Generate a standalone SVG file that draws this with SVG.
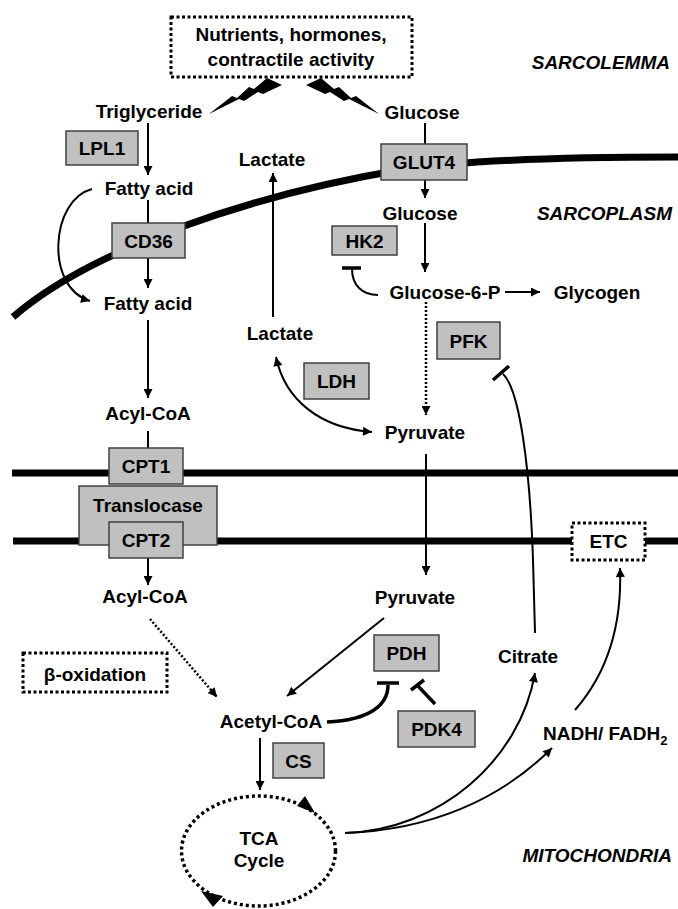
<svg xmlns="http://www.w3.org/2000/svg" width="678" height="909" viewBox="0 0 678 909">
<defs>
<style>
text{font-family:"Liberation Sans",Arial,sans-serif;font-weight:bold;font-size:19px;fill:#000;text-anchor:middle}
.it{font-style:italic;text-anchor:end}
.box{fill:#c0c0c0;stroke:#404040;stroke-width:1.5}
.dbox{fill:#fff;stroke:#000;stroke-width:3;stroke-dasharray:3 2.5}
.mem{fill:none;stroke:#000;stroke-width:7}
.c{fill:none;stroke:#000;stroke-width:2}
.ca{fill:none;stroke:#000;stroke-width:2;marker-end:url(#ah)}
.dot{fill:none;stroke:#000;stroke-width:2.5;stroke-dasharray:2 2;marker-end:url(#ah)}
.inh{fill:none;stroke:#000;stroke-width:3.5}
.bolt{fill:#000}
</style>
<marker id="ah" viewBox="0 0 10 10" refX="10" refY="5" markerWidth="10" markerHeight="9" markerUnits="userSpaceOnUse" orient="auto-start-reverse"><path d="M0,0 L10,5 L0,10 z" fill="#000"/></marker>
</defs>

<g id="membranes">
<path class="mem" d="M13,317 C90,250 250,195 400,170 C470,159 600,157 678,157"/>
<line class="mem" x1="12" y1="473" x2="678" y2="473"/>
<line class="mem" x1="13" y1="541" x2="678" y2="541"/>
</g>

<g id="labels">
<text class="it" x="670" y="69">SARCOLEMMA</text>
<text class="it" x="672" y="220">SARCOPLASM</text>
<text class="it" x="672" y="862">MITOCHONDRIA</text>
</g>

<g id="connectors">
<polygon class="bolt" points="209,114 232,96 237,98 249,87 254,89 267,78 282,85 263,94 258,92 244,101 239,99"/>
<polygon class="bolt" points="379,114 356,96 351,98 339,87 334,89 321,78 306,85 325,94 330,92 344,101 349,99"/>
<line class="ca" x1="148" y1="123" x2="148" y2="175"/>
<line class="c" x1="148" y1="200" x2="148" y2="223"/>
<line class="ca" x1="148" y1="258" x2="148" y2="288"/>
<path class="ca" d="M92,189 C50,200 45,288 90,301"/>
<line class="ca" x1="148" y1="320" x2="148" y2="398"/>
<line class="c" x1="148" y1="431" x2="148" y2="448"/>
<line class="ca" x1="148" y1="558" x2="148" y2="585"/>
<line class="dot" x1="150" y1="619" x2="217" y2="697"/>
<line class="c" x1="425" y1="123" x2="425" y2="144"/>
<line class="ca" x1="425" y1="180" x2="425" y2="198"/>
<line class="ca" x1="425" y1="223" x2="425" y2="272"/>
<path class="c" d="M378,295 C362,295 352,285 352,269"/>
<line class="inh" x1="342" y1="268" x2="361" y2="268"/>
<line class="ca" x1="505" y1="292" x2="540" y2="292"/>
<line class="dot" x1="426" y1="302" x2="426" y2="415"/>
<line class="ca" x1="273" y1="317" x2="273" y2="173"/>
<path class="ca" d="M276,357 C285,400 320,428 372,432" marker-start="url(#ah)"/>
<line class="ca" x1="426" y1="454" x2="426" y2="575"/>
<line class="ca" x1="384" y1="618" x2="287" y2="696"/>
<path class="inh" d="M327,722 C370,720 388,705 388,685"/>
<line class="inh" x1="377" y1="683" x2="399" y2="683"/>
<line class="inh" x1="435" y1="704" x2="418" y2="686"/>
<line class="inh" x1="411" y1="690" x2="424" y2="680"/>
<line class="ca" x1="260" y1="738" x2="260" y2="790"/>
<path class="ca" d="M345,833 C440,830 520,760 535,673"/>
<path class="ca" d="M345,833 C430,830 500,800 552,748"/>
<path class="c" d="M535,633 L533,560 C530,470 520,390 503,374"/>
<line class="inh" x1="493" y1="380" x2="509" y2="366"/>
<path class="ca" d="M575,710 C610,670 622,620 620,568"/>
</g>

<g id="nutrients">
<rect class="dbox" x="171" y="17" width="241" height="60"/>
<text x="291" y="41">Nutrients, hormones,</text>
<text x="291" y="66">contractile activity</text>
</g>
<g id="triglyceride"><text x="149" y="118">Triglyceride</text></g>
<g id="glucose-out"><text x="422" y="119">Glucose</text></g>
<g id="lpl1"><rect class="box" x="66" y="131" width="72" height="34"/><text x="102" y="155">LPL1</text></g>
<g id="lactate-out"><text x="272" y="166">Lactate</text></g>
<g id="fatty-acid-out"><text x="149" y="195">Fatty acid</text></g>
<g id="cd36"><rect class="box" x="112" y="223" width="73" height="35"/><text x="148.5" y="247.5">CD36</text></g>
<g id="glut4"><rect class="box" x="381" y="144" width="86" height="36"/><text x="424" y="169">GLUT4</text></g>
<g id="glucose-in"><text x="420" y="220">Glucose</text></g>
<g id="hk2"><rect class="box" x="332" y="226" width="65" height="29"/><text x="364.5" y="247.5">HK2</text></g>
<g id="fatty-acid-in"><text x="148" y="310">Fatty acid</text></g>
<g id="g6p"><text x="445" y="299">Glucose-6-P</text></g>
<g id="glycogen"><text x="597" y="299">Glycogen</text></g>
<g id="pfk"><rect class="box" x="437" y="322" width="63" height="37"/><text x="468.5" y="347.5">PFK</text></g>
<g id="lactate-in"><text x="280" y="340">Lactate</text></g>
<g id="ldh"><rect class="box" x="304" y="363" width="65" height="36"/><text x="336.5" y="388">LDH</text></g>
<g id="acyl-coa-cyto"><text x="148" y="420">Acyl-CoA</text></g>
<g id="pyruvate-cyto"><text x="425" y="439">Pyruvate</text></g>
<g id="cpt1"><rect class="box" x="109" y="448" width="74" height="36"/><text x="146" y="473">CPT1</text></g>
<g id="translocase"><rect class="box" x="79" y="486" width="138" height="59"/><text x="148" y="512">Translocase</text></g>
<g id="cpt2"><rect class="box" x="109" y="522" width="74" height="36"/><text x="146" y="547">CPT2</text></g>
<g id="etc"><rect class="dbox" x="572" y="523" width="73" height="37"/><text x="608.5" y="548">ETC</text></g>
<g id="acyl-coa-mito"><text x="145" y="603">Acyl-CoA</text></g>
<g id="pyruvate-mito"><text x="415" y="604">Pyruvate</text></g>
<g id="pdh"><rect class="box" x="374" y="635" width="65" height="36"/><text x="406.5" y="660">PDH</text></g>
<g id="citrate"><text x="528" y="663">Citrate</text></g>
<g id="beta-oxidation"><rect class="dbox" x="23" y="653" width="144" height="39"/><text x="95" y="681">β-oxidation</text></g>
<g id="acetyl-coa"><text x="271" y="728">Acetyl-CoA</text></g>
<g id="pdk4"><rect class="box" x="398" y="711" width="77" height="36"/><text x="436.5" y="736">PDK4</text></g>
<g id="nadh"><text x="543" y="740" style="text-anchor:start">NADH/ FADH<tspan font-size="13" dy="5">2</tspan></text></g>
<g id="cs"><rect class="box" x="273" y="743" width="51" height="35"/><text x="298.5" y="767.5">CS</text></g>
<g id="tca">
<ellipse cx="258.5" cy="851" rx="77" ry="55" fill="none" stroke="#000" stroke-width="3.5" stroke-dasharray="3 3"/>
<polygon points="315,813 297,806 305,796" fill="#000"/>
<polygon points="201,891 223,896 213,907" fill="#000"/>
<text x="259" y="845">TCA</text>
<text x="259" y="867">Cycle</text>
</g>
</svg>
